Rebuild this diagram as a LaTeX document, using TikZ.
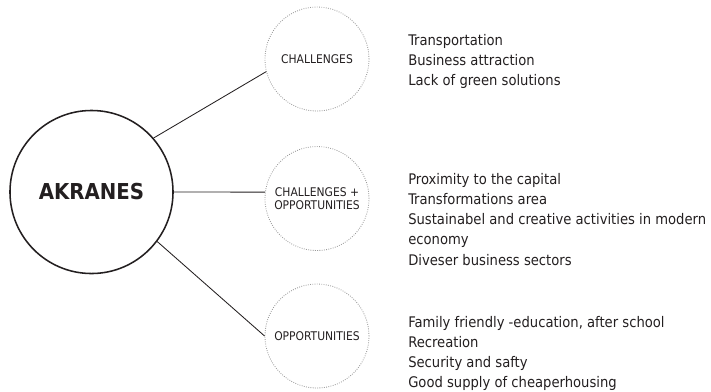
\documentclass[tikz,border=0pt]{standalone}
\usepackage{fontspec}
\setmainfont{DejaVu Sans Condensed}
\usepackage{xcolor}
\usepackage{tikz}
\definecolor{ink}{HTML}{231F20}
\definecolor{dots}{HTML}{9A9A9A}
\tikzset{
  hub/.style={circle, draw=ink, line width=1.1pt, minimum size=4.075cm, inner sep=0pt,
    text=ink, font=\bfseries\fontsize{15.6}{18}\selectfont},
  topic/.style={circle, draw=dots, densely dotted, line width=0.6pt, minimum size=2.6cm,
    inner sep=0pt, align=center, text=ink, font=\fontsize{8.5}{9.25}\selectfont},
  link/.style={draw=ink, line width=0.6pt},
  lst/.style={anchor=north west, inner sep=0pt, align=left, text=ink,
    font=\fontsize{10.4}{14.35}\selectfont},
}

\begin{document}
\begin{tikzpicture}[x=0.025cm, y=-0.025cm]
  \useasboundingbox (0,0) rectangle (711,391);

  \node[hub] (akranes) at (91.5,192) {AKRANES};
  \node[topic] (chal) at (317,59) {CHALLENGES};
  \node[topic] (both) at (317,198.5) {CHALLENGES +\\OPPORTUNITIES};
  \node[topic] (opp) at (317,336) {OPPORTUNITIES};

  \draw[link] (akranes.41) -- (chal.194);
  \draw[link] (akranes.east) -- (both.173);
  \draw[link] (akranes.323) -- (opp.west);

  \node[lst] (challist) at (408,34) {Transportation\\Business attraction\\Lack of green solutions};
  \node[lst] (bothlist) at (408,173) {Proximity to the capital\\Transformations area\\Sustainabel and creative activities in modern\\economy\\Diveser business sectors};
  \node[lst] (opplist) at (408,316) {Family friendly -education, after school\\Recreation\\Security and safty\\Good supply of cheaperhousing};
\end{tikzpicture}
\end{document}
